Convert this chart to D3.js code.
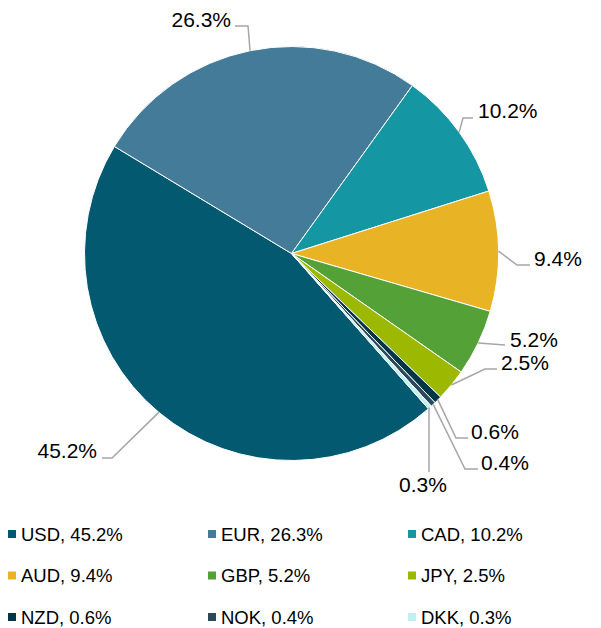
<!DOCTYPE html>
<html>
<head>
<meta charset="utf-8">
<script src="https://cdn.jsdelivr.net/npm/d3@7"></script>
<style>
  body { margin: 0; background: #fff; }
  text { font-family: "Liberation Sans", Arial, sans-serif; }
</style>
</head>
<body>
<div id="chart"></div>
<script>
// data
const currencies = ["USD", "EUR", "CAD", "AUD", "GBP", "JPY", "NZD", "NOK", "DKK"];
const shares = [45.2, 26.3, 10.2, 9.4, 5.2, 2.5, 0.6, 0.4, 0.3];
const colors = ["#035a70", "#447b98", "#1596a3", "#e8b324", "#53a137", "#9db800", "#003646", "#2a4a5c", "#c4eff2"];

const width = 601;
const height = 628;
const cx = 291.5, cy = 253.5, r = 207;

const svg = d3.select("#chart")
    .append("svg")
    .attr("width", width)
    .attr("height", height)
    .attr("viewBox", [0, 0, width, height]);

const data = currencies.map((c, i) => ({ id: c, value: shares[i], color: colors[i] }));

const start = 138.6 * Math.PI / 180;
const pie = d3.pie()
    .value(d => d.value)
    .sort(null)
    .startAngle(start)
    .endAngle(start + 2 * Math.PI);

const arcs = pie(data);
const arc = d3.arc().innerRadius(0).outerRadius(r);

const g = svg.append("g").attr("transform", `translate(${cx},${cy})`);

g.selectAll("path")
    .data(arcs)
    .enter()
    .append("path")
    .attr("d", arc)
    .attr("fill", d => d.data.color)
    .attr("stroke", "#fff")
    .attr("stroke-width", 1);

// label layout: elbow / end of leader, text anchor point (page coords)
const labelLayout = {
    USD: { pts: [[112, 458], [102, 458]], tx: 97, ty: 458, anchor: "end" },
    EUR: { pts: [[248, 26], [235, 26]], tx: 231, ty: 27, anchor: "end" },
    CAD: { pts: [[463, 118], [473, 118]], tx: 478, ty: 118, anchor: "start" },
    AUD: { pts: [[517, 265], [530, 265]], tx: 534, ty: 266, anchor: "start" },
    GBP: { pts: [[505, 345]], tx: 510, ty: 347, anchor: "start" },
    JPY: { pts: [[485, 369], [497, 369]], tx: 501, ty: 370, anchor: "start" },
    NZD: { pts: [[456, 438], [468, 438]], tx: 471, ty: 439, anchor: "start" },
    NOK: { pts: [[465, 469], [478, 469]], tx: 481, ty: 470, anchor: "start" },
    DKK: { pts: [[429, 472]], tx: 423, ty: 492, anchor: "middle" }
};

arcs.forEach(d => {
    const L = labelLayout[d.data.id];
    const mid = (d.startAngle + d.endAngle) / 2;
    let p0 = [cx + r * Math.sin(mid), cy - r * Math.cos(mid)];
    if (d.data.id === "DKK") p0 = [L.pts[0][0], p0[1]];
    svg.append("path")
        .attr("d", d3.line()([p0, ...L.pts]))
        .attr("fill", "none")
        .attr("stroke", "#a6a6a6")
        .attr("stroke-width", 1.5);
    svg.append("text")
        .attr("x", L.tx)
        .attr("y", L.ty)
        .attr("text-anchor", L.anchor)
        .attr("font-size", "21px")
        .attr("fill", "#000")
        .text(d3.format(".1f")(d.data.value) + "%");
});

// legend
const colX = d3.scalePoint().domain([0, 1, 2]).range([8, 408]);
const rowY = d3.scalePoint().domain([0, 1, 2]).range([534, 617]);

const legend = svg.append("g").attr("class", "legend");
const items = legend.selectAll("g")
    .data(data)
    .enter()
    .append("g")
    .attr("transform", (d, i) => `translate(${colX(i % 3)},${rowY(Math.floor(i / 3))})`);

items.append("rect")
    .attr("x", 0)
    .attr("y", -4)
    .attr("width", 8)
    .attr("height", 8)
    .attr("fill", d => d.color);

items.append("text")
    .attr("x", 13)
    .attr("y", 6.5)
    .attr("font-size", "18.5px")
    .attr("fill", "#000")
    .text(d => `${d.id}, ${d3.format(".1f")(d.value)}%`);
</script>
</body>
</html>
